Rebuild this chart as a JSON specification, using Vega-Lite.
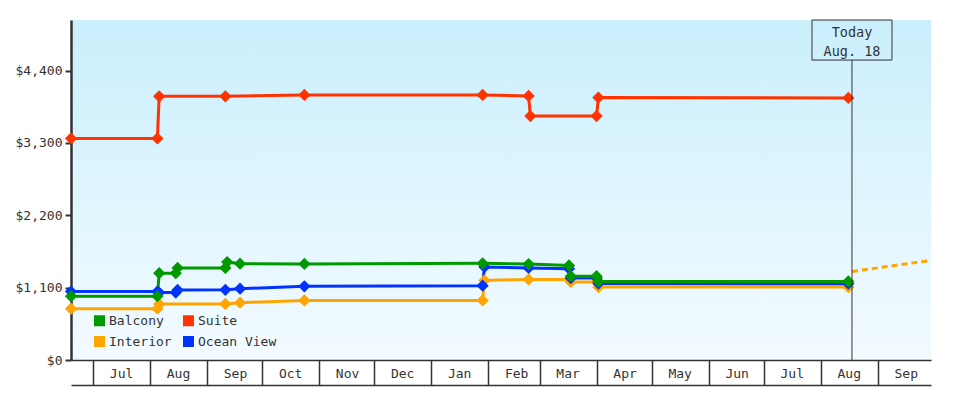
{
  "$schema": "https://vega.github.io/schema/vega-lite/v6.json",
  "width": 860,
  "height": 340,
  "autosize": "none",
  "padding": {"left": 71, "top": 20, "right": 49, "bottom": 40},
  "background": "white",
  "config": {
    "view": {
      "stroke": null,
      "fill": {
        "gradient": "linear", "x1": 0, "y1": 0, "x2": 0, "y2": 1,
        "stops": [{"offset": 0, "color": "#caeffc"}, {"offset": 1, "color": "#f3fbff"}]
      }
    },
    "font": "DejaVu Sans Mono",
    "axis": {"labelFont": "DejaVu Sans Mono", "labelFontSize": 13, "labelColor": "#333", "grid": false, "title": null}
  },
  "datasets": {
    "prices": [
      {"date": "2018-06-19", "cabin": "Interior", "price": 780},
      {"date": "2018-08-05", "cabin": "Interior", "price": 780},
      {"date": "2018-08-06", "cabin": "Interior", "price": 850},
      {"date": "2018-09-11", "cabin": "Interior", "price": 852},
      {"date": "2018-09-19", "cabin": "Interior", "price": 872},
      {"date": "2018-10-24", "cabin": "Interior", "price": 905},
      {"date": "2019-01-29", "cabin": "Interior", "price": 905},
      {"date": "2019-01-30", "cabin": "Interior", "price": 1210},
      {"date": "2019-02-23", "cabin": "Interior", "price": 1225},
      {"date": "2019-03-17", "cabin": "Interior", "price": 1225},
      {"date": "2019-03-18", "cabin": "Interior", "price": 1185},
      {"date": "2019-04-01", "cabin": "Interior", "price": 1185},
      {"date": "2019-04-02", "cabin": "Interior", "price": 1110},
      {"date": "2019-08-16", "cabin": "Interior", "price": 1110},
      {"date": "2018-06-19", "cabin": "Ocean View", "price": 1040},
      {"date": "2018-08-05", "cabin": "Ocean View", "price": 1040},
      {"date": "2018-08-06", "cabin": "Ocean View", "price": 1025},
      {"date": "2018-08-15", "cabin": "Ocean View", "price": 1025},
      {"date": "2018-08-16", "cabin": "Ocean View", "price": 1065},
      {"date": "2018-09-11", "cabin": "Ocean View", "price": 1068},
      {"date": "2018-09-19", "cabin": "Ocean View", "price": 1085},
      {"date": "2018-10-24", "cabin": "Ocean View", "price": 1120},
      {"date": "2019-01-29", "cabin": "Ocean View", "price": 1130},
      {"date": "2019-01-30", "cabin": "Ocean View", "price": 1415},
      {"date": "2019-02-23", "cabin": "Ocean View", "price": 1400},
      {"date": "2019-03-17", "cabin": "Ocean View", "price": 1388},
      {"date": "2019-03-18", "cabin": "Ocean View", "price": 1246},
      {"date": "2019-04-01", "cabin": "Ocean View", "price": 1246},
      {"date": "2019-04-02", "cabin": "Ocean View", "price": 1162},
      {"date": "2019-08-16", "cabin": "Ocean View", "price": 1160},
      {"date": "2018-06-19", "cabin": "Balcony", "price": 970},
      {"date": "2018-08-05", "cabin": "Balcony", "price": 970},
      {"date": "2018-08-06", "cabin": "Balcony", "price": 1320},
      {"date": "2018-08-15", "cabin": "Balcony", "price": 1320},
      {"date": "2018-08-16", "cabin": "Balcony", "price": 1400},
      {"date": "2018-09-11", "cabin": "Balcony", "price": 1400},
      {"date": "2018-09-12", "cabin": "Balcony", "price": 1490},
      {"date": "2018-09-19", "cabin": "Balcony", "price": 1465},
      {"date": "2018-10-24", "cabin": "Balcony", "price": 1460},
      {"date": "2019-01-29", "cabin": "Balcony", "price": 1470},
      {"date": "2019-02-23", "cabin": "Balcony", "price": 1458},
      {"date": "2019-03-17", "cabin": "Balcony", "price": 1437},
      {"date": "2019-03-18", "cabin": "Balcony", "price": 1275},
      {"date": "2019-04-01", "cabin": "Balcony", "price": 1275},
      {"date": "2019-04-02", "cabin": "Balcony", "price": 1195},
      {"date": "2019-08-16", "cabin": "Balcony", "price": 1195},
      {"date": "2018-06-19", "cabin": "Suite", "price": 3370},
      {"date": "2018-08-05", "cabin": "Suite", "price": 3370},
      {"date": "2018-08-06", "cabin": "Suite", "price": 4010},
      {"date": "2018-09-11", "cabin": "Suite", "price": 4010},
      {"date": "2018-10-24", "cabin": "Suite", "price": 4030},
      {"date": "2019-01-29", "cabin": "Suite", "price": 4030},
      {"date": "2019-02-23", "cabin": "Suite", "price": 4015},
      {"date": "2019-02-24", "cabin": "Suite", "price": 3710},
      {"date": "2019-04-01", "cabin": "Suite", "price": 3710},
      {"date": "2019-04-02", "cabin": "Suite", "price": 3990},
      {"date": "2019-08-16", "cabin": "Suite", "price": 3985}
    ],
    "forecast": [
      {"date": "2019-08-18", "cabin": "Interior", "price": 1346},
      {"date": "2019-09-30", "cabin": "Interior", "price": 1515}
    ],
    "today": [
      {"date": "2019-08-18", "label": ["Today", "Aug. 18"]}
    ]
  },
  "resolve": {"axis": {"x": "independent"}},
  "layer": [
    {
      "data": {"name": "prices"},
      "mark": {"type": "line", "strokeWidth": 3},
      "encoding": {
        "x": {
          "field": "date", "type": "temporal",
          "scale": {"type": "utc", "domain": [{"year": 2018, "month": 6, "date": 19, "utc": true}, {"year": 2019, "month": 9, "date": 30, "utc": true}]},
          "axis": {
            "orient": "bottom", "labelExpr": "utcFormat(datum.value, '%b')",
            "tickCount": {"interval": "month", "step": 1},
            "domainColor": "#333", "domainWidth": 1.5,
            "tickColor": "#333", "tickSize": 25, "tickWidth": 1.5,
            "labelAlign": "center", "labelBaseline": "middle", "labelOffset": 28,
            "labelPadding": -12, "labelOverlap": false, "labelBound": false, "labelFlush": false
          }
        },
        "y": {
          "field": "price", "type": "quantitative",
          "scale": {"domain": [0, 5170], "nice": false},
          "axis": {
            "values": [0, 1100, 2200, 3300, 4400], "format": "$,.0f",
            "domainColor": "#333", "domainWidth": 2.5,
            "tickColor": "#333", "tickWidth": 2, "tickSize": 6, "labelPadding": 3
          }
        },
        "color": {
          "field": "cabin", "type": "nominal",
          "scale": {"domain": ["Balcony", "Suite", "Interior", "Ocean View"], "range": ["#009900", "#ff3300", "#ffa500", "#0033ff"]},
          "legend": {
            "orient": "none", "legendX": 22, "legendY": 294, "columns": 2, "direction": "horizontal", "title": null,
            "symbolType": "square", "symbolSize": 121, "symbolStrokeWidth": 0, "symbolOpacity": 1,
            "labelFont": "DejaVu Sans Mono", "labelFontSize": 13, "labelColor": "#333",
            "labelOffset": 3, "columnPadding": 10, "rowPadding": 7, "padding": 0
          }
        }
      }
    },
    {
      "data": {"name": "prices"},
      "mark": {"type": "point", "shape": "diamond", "filled": true, "size": 150, "opacity": 1},
      "encoding": {
        "x": {"field": "date", "type": "temporal", "axis": null},
        "y": {"field": "price", "type": "quantitative"},
        "color": {"field": "cabin", "type": "nominal"}
      }
    },
    {
      "data": {"name": "forecast"},
      "mark": {"type": "line", "strokeWidth": 3, "strokeDash": [6, 4], "color": "#ffa500"},
      "encoding": {
        "x": {"field": "date", "type": "temporal", "axis": null},
        "y": {"field": "price", "type": "quantitative"}
      }
    },
    {
      "data": {"name": "forecast"},
      "transform": [{"filter": "datum.date == '2019-08-18'"}],
      "mark": {"type": "point", "shape": "diamond", "filled": true, "size": 190, "opacity": 1, "color": "#ffa500"},
      "encoding": {
        "x": {"field": "date", "type": "temporal", "axis": null},
        "y": {"field": "price", "type": "quantitative"}
      }
    },
    {
      "data": {"name": "today"},
      "mark": {"type": "rule", "color": "#333", "strokeWidth": 1},
      "encoding": {
        "x": {
          "field": "date", "type": "temporal",
          "axis": {"orient": "bottom", "offset": 25, "ticks": false, "labels": false, "domainColor": "#333", "domainWidth": 1.5}
        },
        "y": {"datum": 0, "type": "quantitative"},
        "y2": {"datum": 4561}
      }
    },
    {
      "data": {"name": "today"},
      "mark": {"type": "rect", "fill": null, "stroke": "#333", "strokeWidth": 1, "xOffset": -40, "x2Offset": 40},
      "encoding": {
        "x": {"field": "date", "type": "temporal", "axis": null},
        "x2": {"field": "date"},
        "y": {"datum": 5170, "type": "quantitative"},
        "y2": {"datum": 4561}
      }
    },
    {
      "data": {"name": "today"},
      "mark": {"type": "text", "font": "DejaVu Sans Mono", "fontSize": 13.5, "color": "#333", "lineHeight": 19, "baseline": "middle", "align": "center"},
      "encoding": {
        "x": {"field": "date", "type": "temporal", "axis": null},
        "y": {"datum": 4976, "type": "quantitative"},
        "text": {"field": "label"}
      }
    }
  ]
}
